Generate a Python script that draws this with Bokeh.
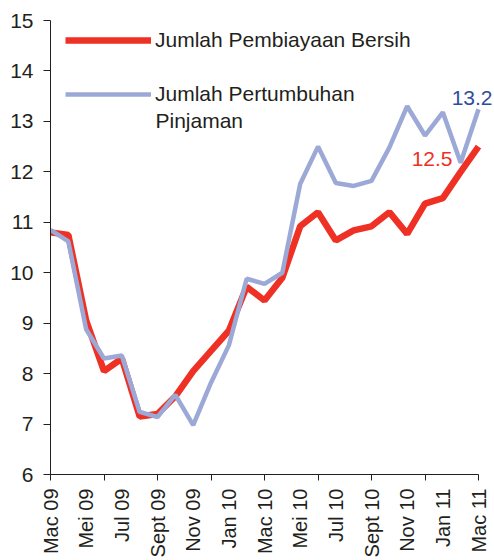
from math import pi
from bokeh.plotting import figure
from bokeh.models import Range1d, FixedTicker, Legend, LegendItem, Label
from bokeh.embed import file_html
from bokeh.resources import INLINE

months = ["Mac 09", "Apr 09", "Mei 09", "Jun 09", "Jul 09", "Ogos 09", "Sept 09",
          "Okt 09", "Nov 09", "Dis 09", "Jan 10", "Feb 10", "Mac 10", "Apr 10",
          "Mei 10", "Jun 10", "Jul 10", "Ogos 10", "Sept 10", "Okt 10", "Nov 10",
          "Dis 10", "Jan 11", "Feb 11", "Mac 11"]
pembiayaan_bersih = [10.8, 10.75, 9.05, 8.05, 8.3, 7.15, 7.2, 7.55, 8.05, 8.45,
                     8.85, 9.72, 9.45, 9.9, 10.92, 11.2, 10.64, 10.84, 10.92, 11.2,
                     10.77, 11.37, 11.48, 12.0, 12.5]
pertumbuhan_pinjaman = [10.85, 10.62, 8.88, 8.3, 8.36, 7.24, 7.14, 7.58, 6.98, 7.82,
                        8.56, 9.88, 9.78, 10.0, 11.76, 12.5, 11.78, 11.72, 11.82, 12.48,
                        13.3, 12.72, 13.18, 12.18, 13.24]
y_ticks = [6, 7, 8, 9, 10, 11, 12, 13, 14, 15]
label_red = "Jumlah Pembiayaan Bersih"
label_blue = ["Jumlah Pertumbuhan", "Pinjaman"]

FONT = "Liberation Sans"
TXT = "#231f20"
RED = "#ee3124"
BLUE = "#9ca8d6"
DARKBLUE = "#2f4c9e"

x = list(range(len(months)))
last = len(months) - 1
label_ticks = x[::2]
mark_ticks = x[::3]

# frame geometry (pixels)
W, H = 494, 560
F_LEFT, F_TOP, AXIS_RIGHT, F_BOTTOM = 50, 20, 478, 474
F_RIGHT = 492
px_per_step = (AXIS_RIGHT - F_LEFT) / last
x_end = last + (F_RIGHT - AXIS_RIGHT) / px_per_step

p = figure(width=W, height=H, output_backend="svg", toolbar_location=None,
           x_range=Range1d(0, x_end), y_range=Range1d(y_ticks[0], y_ticks[-1]),
           min_border_left=F_LEFT, min_border_right=W - F_RIGHT,
           min_border_top=F_TOP, min_border_bottom=H - F_BOTTOM)
p.outline_line_color = None
p.grid.visible = False
p.background_fill_color = "white"
p.border_fill_color = "white"

r_red = p.line(x, pembiayaan_bersih, line_color=RED, line_width=6.5)
r_blue = p.line(x, pertumbuhan_pinjaman, line_color=BLUE, line_width=4.5)

xa = p.xaxis[0]
xa.bounds = (0, last)
xa.ticker = FixedTicker(ticks=label_ticks, minor_ticks=mark_ticks)
xa.major_label_overrides = {i: months[i] for i in label_ticks}
xa.major_label_orientation = pi / 2
xa.major_tick_out = 0
xa.major_tick_in = 0
xa.minor_tick_out = 6
xa.minor_tick_in = 0
xa.minor_tick_line_color = TXT
xa.major_label_standoff = 8
xa.major_label_text_font = FONT
xa.major_label_text_font_size = "20px"
xa.major_label_text_color = TXT
xa.axis_line_color = TXT

ya = p.yaxis[0]
ya.ticker = FixedTicker(ticks=y_ticks)
ya.major_tick_out = 7
ya.major_tick_in = 0
ya.minor_tick_out = 0
ya.minor_tick_in = 0
ya.major_tick_line_color = TXT
ya.major_label_standoff = 10
ya.major_label_text_font = FONT
ya.major_label_text_font_size = "21px"
ya.major_label_text_color = TXT
ya.axis_line_color = TXT

# legend: item centres at y=40 and y=94 (page pixels)
legend = Legend(items=[LegendItem(label=label_red, renderers=[r_red]),
                       LegendItem(label=label_blue[0], renderers=[r_blue])],
                location=(15, F_BOTTOM - 106), padding=0, margin=0, spacing=30,
                glyph_width=86, glyph_height=24, label_height=24, label_standoff=4,
                label_text_font=FONT, label_text_font_size="21px", label_text_color=TXT,
                border_line_color=None, background_fill_alpha=0)
p.add_layout(legend)
p.add_layout(Label(x=105, y=F_BOTTOM - 120, x_units="screen", y_units="screen",
                   text=label_blue[1], text_align="left", text_baseline="middle",
                   text_color=TXT, text_font=FONT, text_font_size="21px"))

p.add_layout(Label(x=last, y=pertumbuhan_pinjaman[last], text=f"{pertumbuhan_pinjaman[last]:.1f}",
                   x_offset=14, y_offset=11, text_align="right", text_baseline="middle",
                   text_color=DARKBLUE, text_font=FONT, text_font_size="21px"))
p.add_layout(Label(x=last, y=pembiayaan_bersih[last], text=f"{pembiayaan_bersih[last]:.1f}",
                   x_offset=-26, y_offset=-12, text_align="right", text_baseline="middle",
                   text_color=RED, text_font=FONT, text_font_size="21px"))

open("out.html", "w").write(file_html(p, INLINE))
